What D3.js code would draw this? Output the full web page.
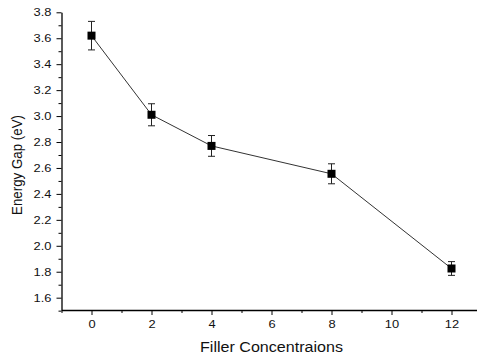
<!DOCTYPE html>
<html><head><meta charset="utf-8">
<script src="https://cdn.jsdelivr.net/npm/d3@7"></script>
<style>body{margin:0;background:#fff}svg{display:block}text{font-family:"Liberation Sans",Arial,sans-serif}
.tk{transform-box:fill-box;transform-origin:center;transform:scale(1.12,1)}</style>
</head><body>
<svg id="c" width="477" height="358"></svg>
<script>
const concentrations = [0, 2, 4, 8, 12];
const energyGap = [3.62, 3.01, 2.77, 2.555, 1.825];
const errors = [0.11, 0.085, 0.08, 0.077, 0.053];
const xTicks = [0, 2, 4, 6, 8, 10, 12];
const yTicks = [1.6, 1.8, 2.0, 2.2, 2.4, 2.6, 2.8, 3.0, 3.2, 3.4, 3.6, 3.8];

const svg = d3.select("#c");
const x = d3.scaleLinear().domain([-1, 13]).range([61.5, 481.5]);
const y = d3.scaleLinear().domain([1.505, 3.8]).range([310, 12.3]);

// minor ticks
const xMinor = d3.range(-1, 13.01, 1).filter(v => v % 2 !== 0);
const yMinor = d3.range(1.5, 3.81, 0.1).map(v => +v.toFixed(1)).filter(v => Math.round(v * 10) % 2 !== 0);

const gx = svg.append("g").attr("transform", `translate(0,${y.range()[0]})`);
gx.call(d3.axisBottom(x).tickValues(xMinor).tickSize(3).tickFormat("")).call(g => g.select(".domain").remove());
gx.append("g").call(d3.axisBottom(x).tickValues(xTicks).tickSize(5).tickSizeOuter(0).tickPadding(5).tickFormat(d3.format("d")));
gx.selectAll("path.domain").attr("stroke", "#000").attr("stroke-width", 1.3);
gx.selectAll("text").attr("font-size", 11.5).attr("fill", "#111").attr("class", "tk");

const gy = svg.append("g").attr("transform", `translate(${x.range()[0]},0)`);
gy.call(d3.axisLeft(y).tickValues(yMinor).tickSize(3).tickFormat("")).call(g => g.select(".domain").remove());
gy.append("g").call(d3.axisLeft(y).tickValues(yTicks).tickSize(5).tickSizeOuter(0).tickPadding(6).tickFormat(d3.format(".1f")));
gy.selectAll("path.domain").attr("stroke", "#000").attr("stroke-width", 1.3);
gy.selectAll("text").attr("font-size", 11.5).attr("fill", "#111").attr("class", "tk");

// line
const pts = concentrations.map((c, i) => ({x: c, y: energyGap[i], e: errors[i]}));
svg.append("path").datum(pts)
  .attr("fill", "none").attr("stroke", "#333").attr("stroke-width", 1)
  .attr("d", d3.line().x(d => x(d.x)).y(d => y(d.y)));

// error bars
const eb = svg.append("g").attr("stroke", "#222").attr("stroke-width", 1);
pts.forEach(d => {
  eb.append("line").attr("x1", x(d.x)).attr("x2", x(d.x)).attr("y1", y(d.y - d.e)).attr("y2", y(d.y + d.e));
  eb.append("line").attr("x1", x(d.x) - 3.5).attr("x2", x(d.x) + 3.5).attr("y1", y(d.y + d.e)).attr("y2", y(d.y + d.e));
  eb.append("line").attr("x1", x(d.x) - 3.5).attr("x2", x(d.x) + 3.5).attr("y1", y(d.y - d.e)).attr("y2", y(d.y - d.e));
});

// markers
svg.append("g").selectAll("rect").data(pts).join("rect")
  .attr("x", d => x(d.x) - 4).attr("y", d => y(d.y) - 4)
  .attr("width", 8).attr("height", 8).attr("fill", "#000");

// titles
svg.append("text").attr("x", 271.5).attr("y", 352).attr("text-anchor", "middle")
  .attr("font-size", 14).attr("fill", "#111")
  .attr("textLength", 143).attr("lengthAdjust", "spacingAndGlyphs").text("Filler Concentraions");
svg.append("text").attr("transform", "translate(21.5,165) rotate(-90)").attr("text-anchor", "middle")
  .attr("font-size", 14).attr("fill", "#111")
  .attr("textLength", 100).attr("lengthAdjust", "spacingAndGlyphs").text("Energy Gap (eV)");
</script>
</body></html>
